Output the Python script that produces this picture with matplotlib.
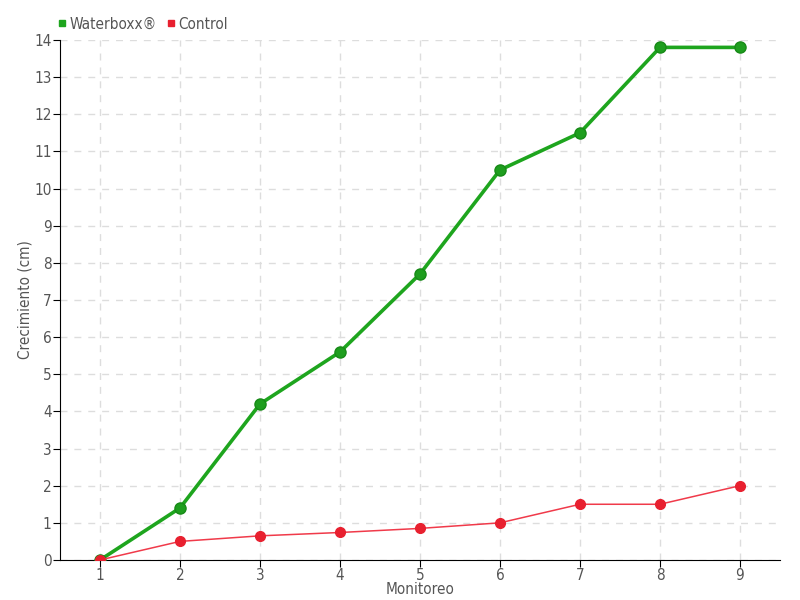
import matplotlib
matplotlib.use("Agg")
import matplotlib.pyplot as plt
from matplotlib.lines import Line2D

monitoreo = [1, 2, 3, 4, 5, 6, 7, 8, 9]
waterboxx = [0, 1.4, 4.2, 5.6, 7.7, 10.5, 11.5, 13.8, 13.8]
control = [0, 0.5, 0.65, 0.74, 0.85, 1.0, 1.5, 1.5, 2.0]
yticks = list(range(0, 15))

plt.rcParams['font.family'] = ['DejaVu Sans']
plt.rcParams['font.stretch'] = 'condensed'
txt = '#555555'

fig = plt.figure(figsize=(8, 6), dpi=100)
ax = fig.add_axes([0.075, 0.0667, 0.9, 0.8667])

ax.plot(monitoreo, waterboxx, color='#1ea51e', lw=2.6, marker='o', ms=8,
        markerfacecolor='#1e9e1e', markeredgecolor='#178a17', zorder=3)
ax.plot(monitoreo, control, color='#f03a4a', lw=1.1, marker='o', ms=7,
        markerfacecolor='#e8202f', markeredgecolor='#e8202f', zorder=4)

ax.set_xlim(0.5, 9.5)
ax.set_ylim(0, 14)
ax.set_xticks(monitoreo)
ax.set_yticks(yticks)
ax.grid(True, color='#dddddd', linestyle=(0, (5, 5)), lw=1)
ax.set_axisbelow(True)
for s in ['top', 'right']:
    ax.spines[s].set_visible(False)
ax.spines['left'].set_color('black')
ax.spines['bottom'].set_color('black')
ax.tick_params(axis='both', colors='black', labelcolor=txt, labelsize=11, length=5, direction='out', pad=1)
ax.set_xlabel('Monitoreo', color=txt, fontsize=11, labelpad=-1)
ax.set_ylabel('Crecimiento (cm)', color=txt, fontsize=11, labelpad=1)

handles = [Line2D([], [], marker='s', color='none', markerfacecolor='#1ea51e', markeredgecolor='#1ea51e', ms=5),
           Line2D([], [], marker='s', color='none', markerfacecolor='#e8202f', markeredgecolor='#e8202f', ms=5)]
leg = fig.legend(handles, ['Waterboxx®', 'Control'], loc='upper left', bbox_to_anchor=(0.055, 0.995),
                 ncol=2, frameon=False, fontsize=11, handlelength=0.6, handletextpad=0.2, columnspacing=0.6)
for t in leg.get_texts():
    t.set_color(txt)

fig.savefig('out.png', dpi=100)
